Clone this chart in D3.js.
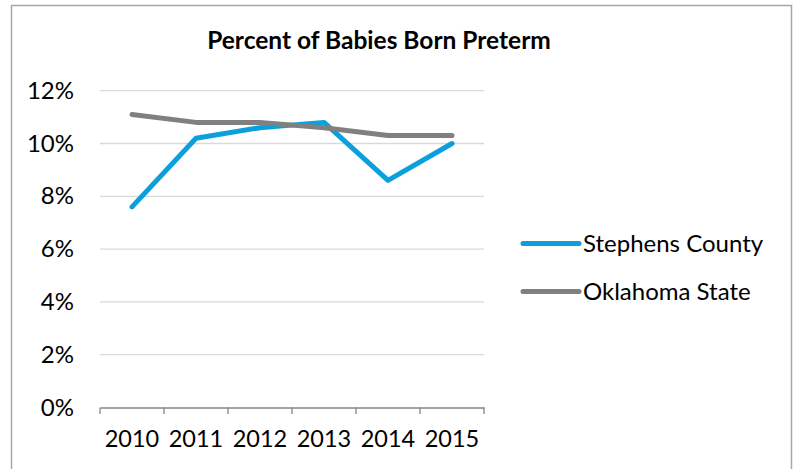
<!DOCTYPE html>
<html>
<head>
  <style>
    body { margin: 0; background: #fff; font-family: Lato, sans-serif; }
  </style>
  <script src="https://d3js.org/d3.v7.min.js"></script>
</head>
<body>
  <svg id="chart" width="796" height="469"></svg>
  <script>
    const years = ["2010", "2011", "2012", "2013", "2014", "2015"];
    const stephens = [7.6, 10.2, 10.6, 10.8, 8.6, 10.0];
    const oklahoma = [11.1, 10.8, 10.8, 10.6, 10.3, 10.3];
    const yTicks = [0, 2, 4, 6, 8, 10, 12];
    const seriesNames = ["Stephens County", "Oklahoma State"];
    const seriesColors = ["#0ba0dc", "#808080"];

    const svg = d3.select("#chart");

    // outer frame
    svg.append("rect")
      .attr("x", 11.5).attr("y", 5.5)
      .attr("width", 780).attr("height", 470)
      .attr("fill", "none").attr("stroke", "#a6a6a6").attr("stroke-width", 1.5);

    // title
    svg.append("text")
      .attr("x", 379).attr("y", 48.5)
      .attr("text-anchor", "middle")
      .style("font-weight", "bold").style("font-size", "24.5px")
      .text("Percent of Babies Born Preterm");

    const x = d3.scaleBand().domain(years).range([100, 484]);
    const y = d3.scaleLinear().domain([0, 12]).range([407.5, 90.7]);

    // gridlines
    svg.append("g")
      .selectAll("line")
      .data(yTicks.filter(d => d > 0))
      .enter()
      .append("line")
      .attr("x1", 100).attr("x2", 484)
      .attr("y1", d => y(d)).attr("y2", d => y(d))
      .attr("stroke", "#d9d9d9").attr("stroke-width", 1.3);

    // y labels
    const yAxis = svg.append("g")
      .attr("transform", "translate(100,0)")
      .call(d3.axisLeft(y).tickValues(yTicks).tickFormat(d => d + "%").tickSize(0).tickPadding(26));
    yAxis.select(".domain").remove();
    yAxis.selectAll("text").style("font-family", "Lato, sans-serif").style("font-size", "24px").attr("fill", "#000");

    // x axis
    const xAxis = svg.append("g")
      .attr("transform", "translate(0,407.5)")
      .call(d3.axisBottom(x).tickSize(0).tickPadding(23));
    xAxis.select(".domain").attr("stroke", "#868686").attr("stroke-width", 1.3);
    xAxis.selectAll("text").style("font-family", "Lato, sans-serif").style("font-size", "23.5px").attr("fill", "#000");
    // boundary ticks between categories
    svg.append("g")
      .selectAll("line")
      .data(years.concat(["end"]))
      .enter()
      .append("line")
      .attr("x1", (d, i) => i < years.length ? x(d) : x.range()[1])
      .attr("x2", (d, i) => i < years.length ? x(d) : x.range()[1])
      .attr("y1", 407.5).attr("y2", 414)
      .attr("stroke", "#868686").attr("stroke-width", 1.3);

    const line = d3.line()
      .x((d, i) => x(years[i]) + x.bandwidth() / 2)
      .y(d => y(d));

    [stephens, oklahoma].forEach((vals, k) => {
      svg.append("path")
        .attr("d", line(vals))
        .attr("fill", "none")
        .attr("stroke", seriesColors[k])
        .attr("stroke-width", 5)
        .attr("stroke-linejoin", "round")
        .attr("stroke-linecap", "round");
    });

    // legend
    const legend = svg.append("g")
      .selectAll("g")
      .data(seriesNames)
      .enter()
      .append("g")
      .attr("transform", (d, i) => "translate(523," + (243.5 + i * 48) + ")");
    legend.append("line")
      .attr("x1", 0).attr("x2", 56)
      .attr("stroke", (d, i) => seriesColors[i])
      .attr("stroke-width", 5)
      .attr("stroke-linecap", "round");
    legend.append("text")
      .attr("x", 60).attr("dy", "0.35em")
      .style("font-size", "24px")
      .text(d => d);
  </script>
</body>
</html>
